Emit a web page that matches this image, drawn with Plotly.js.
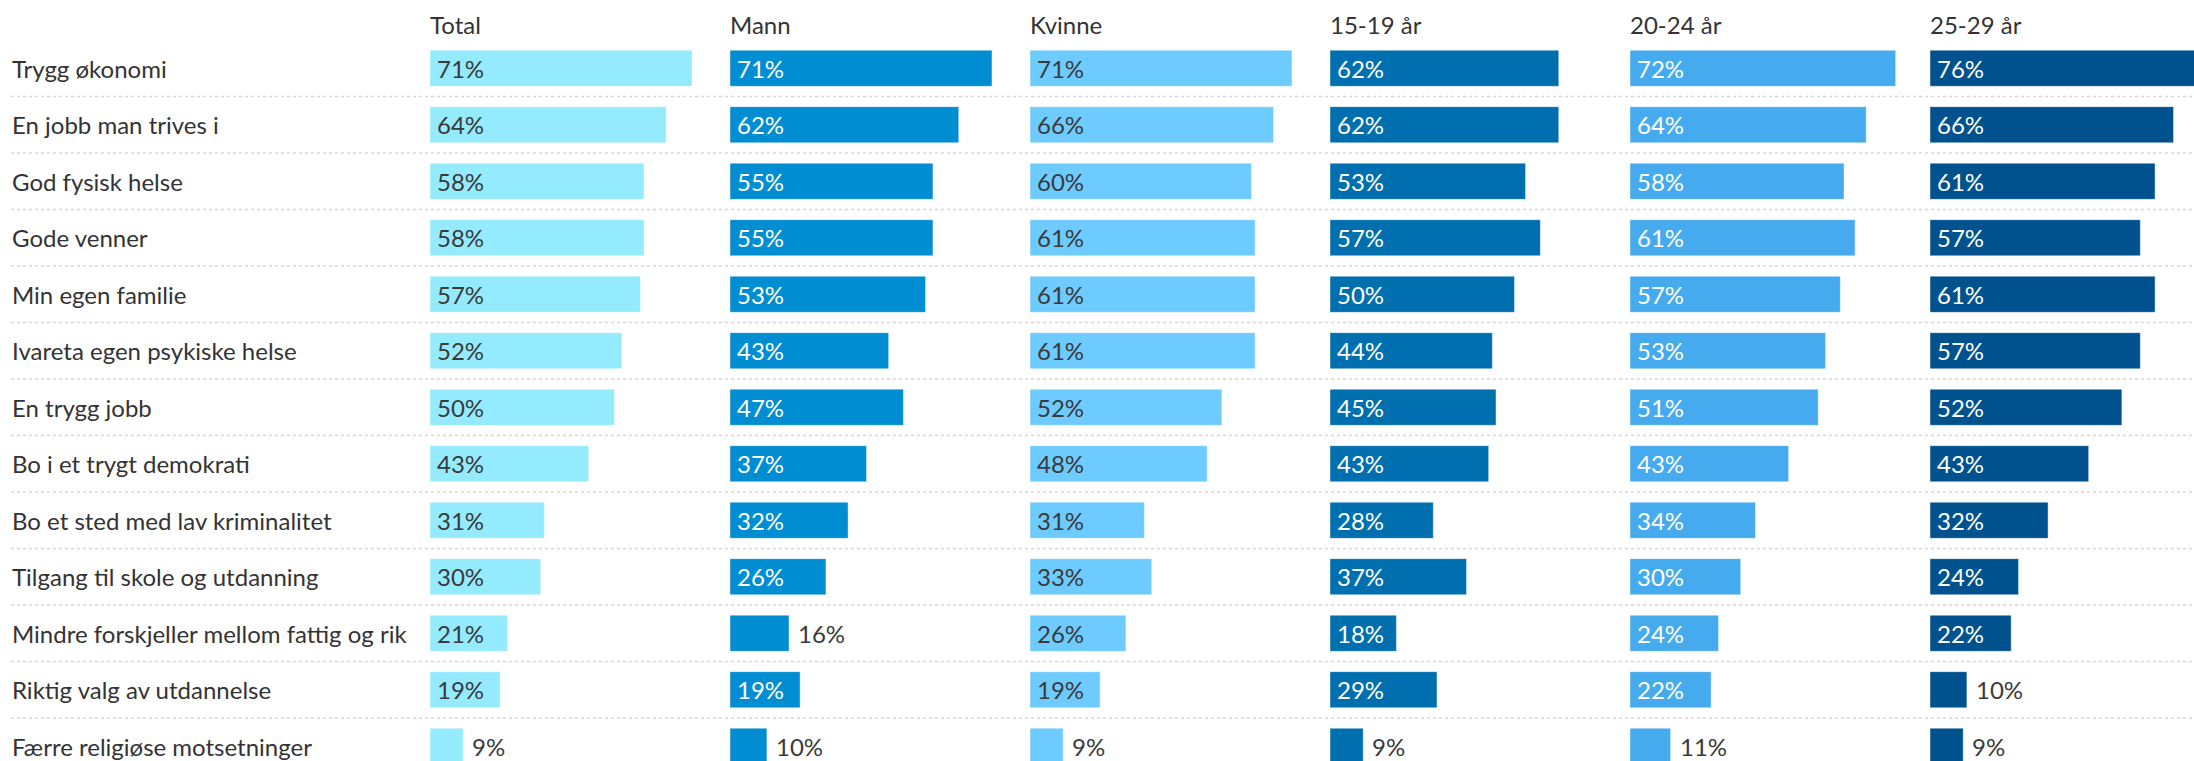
<!DOCTYPE html>
<html>
<head>
<meta charset="utf-8">
<script src="https://cdn.plot.ly/plotly-3.0.1.min.js"></script>
<style>
  html, body { margin: 0; padding: 0; background: #ffffff; }
  #chart { width: 2194px; height: 761px; }
</style>
</head>
<body>
<div id="chart"></div>
<script>
const categories = [
  "Trygg økonomi",
  "En jobb man trives i",
  "God fysisk helse",
  "Gode venner",
  "Min egen familie",
  "Ivareta egen psykiske helse",
  "En trygg jobb",
  "Bo i et trygt demokrati",
  "Bo et sted med lav kriminalitet",
  "Tilgang til skole og utdanning",
  "Mindre forskjeller mellom fattig og rik",
  "Riktig valg av utdannelse",
  "Færre religiøse motsetninger"
];

const groups = ["Total", "Mann", "Kvinne", "15-19 år", "20-24 år", "25-29 år"];

const total   = [71, 64, 58, 58, 57, 52, 50, 43, 31, 30, 21, 19, 9];
const mann    = [71, 62, 55, 55, 53, 43, 47, 37, 32, 26, 16, 19, 10];
const kvinne  = [71, 66, 60, 61, 61, 61, 52, 48, 31, 33, 26, 19, 9];
const age1519 = [62, 62, 53, 57, 50, 44, 45, 43, 28, 37, 18, 29, 9];
const age2024 = [72, 64, 58, 61, 57, 53, 51, 43, 34, 30, 24, 22, 11];
const age2529 = [76, 66, 61, 57, 61, 57, 52, 43, 32, 24, 22, 10, 9];

const seriesValues = [total, mann, kvinne, age1519, age2024, age2529];

// styling
const barColors = ["#94EBFE", "#008DD2", "#6DCBFF", "#006FAF", "#46ABEE", "#00528F"];
const insideTextColors = ["#3a3a3a", "#ffffff", "#3a3a3a", "#ffffff", "#ffffff", "#ffffff"];
const outsideTextColor = "#3a3a3a";
const insideMin = 17;  // smaller bars get their label outside

const W = 2194, H = 761;
const marginTop = 40;
const plotH = H - marginTop;
const rowPx = 56.5;
const panelLeft = 430, panelStep = 300, pxPerPct = 3.69;
const FONT = "Lato, 'Open Sans', 'DejaVu Sans', sans-serif";
const FS = 24;

const data = [];
const annotations = [];
const layout = {
  width: W, height: H,
  margin: {l: 0, r: 0, t: marginTop, b: 0, pad: 0},
  paper_bgcolor: "#ffffff",
  plot_bgcolor: "rgba(0,0,0,0)",
  showlegend: false,
  hovermode: false,
  font: {family: FONT, size: FS, color: "#333333"},
  yaxis: {
    type: "category",
    categoryorder: "array",
    categoryarray: categories,
    range: [plotH / rowPx - 0.5, -0.5],
    showgrid: false, zeroline: false, showticklabels: false, showline: false,
    ticks: "", fixedrange: true
  },
  shapes: [],
  annotations: annotations
};

groups.forEach((g, i) => {
  const axName = i === 0 ? "xaxis" : "xaxis" + (i + 1);
  const axRef = i === 0 ? "x" : "x" + (i + 1);
  const startPx = panelLeft + i * panelStep;
  const endPx = Math.min(startPx + panelStep, W);
  layout[axName] = {
    domain: [startPx / W, endPx / W],
    range: [0, (endPx - startPx) / pxPerPct],
    anchor: "y",
    showgrid: false, zeroline: false, showticklabels: false, showline: false,
    ticks: "", fixedrange: true
  };
  const vals = seriesValues[i];
  data.push({
    type: "bar",
    orientation: "h",
    x: vals,
    y: categories,
    xaxis: axRef,
    yaxis: "y",
    width: 0.64,
    marker: {color: barColors[i], line: {color: "rgba(255,255,255,0.45)", width: 1}},
    hoverinfo: "skip",
    cliponaxis: true
  });
  // column header
  annotations.push({
    xref: axRef, yref: "paper",
    x: 0, y: 1 + 16 / plotH,
    xanchor: "left", yanchor: "middle",
    text: g, showarrow: false,
    xshift: -2,
    font: {family: FONT, size: FS, color: "#333333"}
  });
  // value labels
  vals.forEach((v, j) => {
    const inside = v >= insideMin;
    annotations.push({
      xref: axRef, yref: "y",
      x: inside ? 0 : v, y: categories[j],
      xanchor: "left", yanchor: "middle",
      xshift: inside ? 5 : 7,
      text: v + "%", showarrow: false,
      font: {family: FONT, size: FS, color: inside ? insideTextColors[i] : outsideTextColor}
    });
  });
});

// category labels
categories.forEach((c) => {
  annotations.push({
    xref: "paper", yref: "y",
    x: 10 / W, y: c,
    xanchor: "left", yanchor: "middle",
    text: c, showarrow: false,
    font: {family: FONT, size: FS, color: "#333333"}
  });
});

// dotted separators between rows
for (let k = 0; k < categories.length - 1; k++) {
  layout.shapes.push({
    type: "line", xref: "paper", yref: "y",
    x0: 11 / W, x1: 1, y0: k + 0.5, y1: k + 0.5,
    line: {color: "#d6d6d6", width: 1.3, dash: "dot"},
    layer: "below"
  });
}

Plotly.newPlot("chart", data, layout, {staticPlot: true, displayModeBar: false});
</script>
</body>
</html>
